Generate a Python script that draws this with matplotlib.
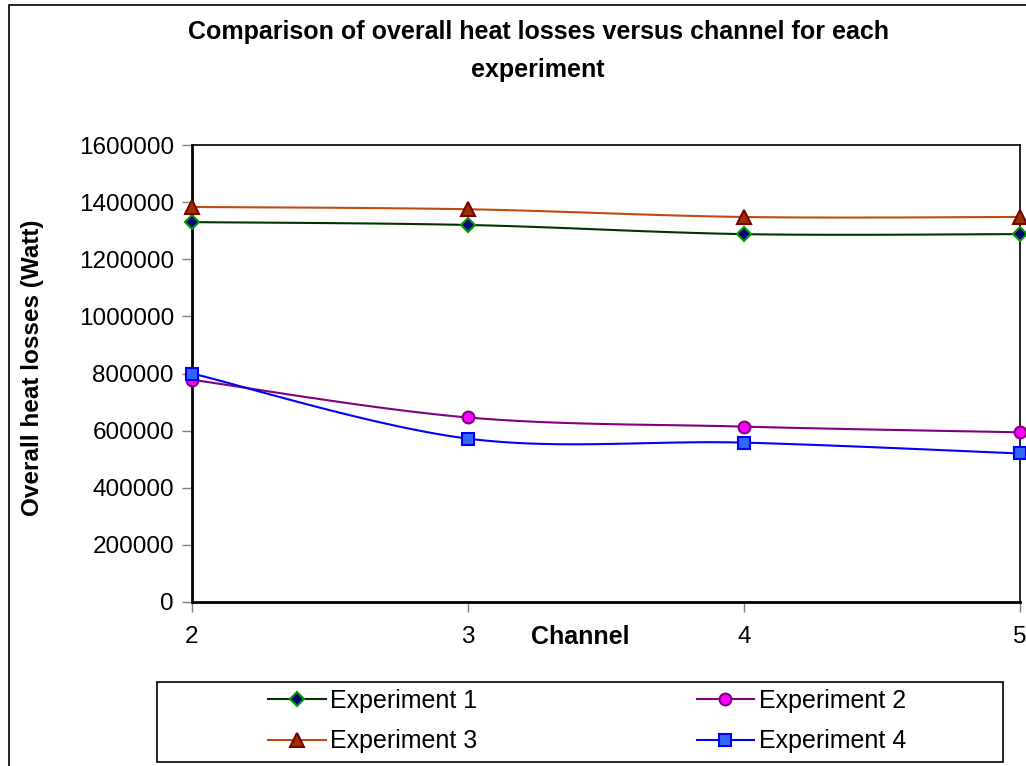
import matplotlib
matplotlib.use("Agg")
import matplotlib.pyplot as plt
import numpy as np
from matplotlib.patches import Rectangle
from matplotlib.lines import Line2D
from matplotlib.ticker import FuncFormatter

plt.rcParams['font.family'] = ['Liberation Sans', 'DejaVu Sans']

channels = [2, 3, 4, 5]
exp1 = [1330000, 1320000, 1288000, 1288000]
exp2 = [778000, 646000, 614000, 594000]
exp3 = [1383000, 1375000, 1348000, 1348000]
exp4 = [800000, 572000, 558000, 520000]

labels = ["Experiment 1", "Experiment 2", "Experiment 3", "Experiment 4"]
series = [exp1, exp2, exp3, exp4]
styles = [
    dict(color="#003300", marker="D", mfc="#000080", mec="#009900", ms=7.5),
    dict(color="#800080", marker="o", mfc="#FF00FF", mec="#800080", ms=8.5),
    dict(color="#C04A10", marker="^", mfc="#993300", mec="#800000", ms=10),
    dict(color="#0000FF", marker="s", mfc="#3366FF", mec="#0000FF", ms=8),
]


def smooth(x, y, n=40):
    # Excel-like smoothed line: Catmull-Rom segments as cubic Bezier
    x = np.asarray(x, float)
    y = np.asarray(y, float)
    px = np.concatenate([[x[0]], x, [x[-1]]])
    py = np.concatenate([[y[0]], y, [y[-1]]])
    t = np.linspace(0, 1, n)
    xs, ys = [], []
    for i in range(1, len(px) - 2):
        p0 = np.array([px[i], py[i]])
        p3 = np.array([px[i + 1], py[i + 1]])
        c1 = p0 + (p3 - np.array([px[i - 1], py[i - 1]])) / 6
        c2 = p3 - (np.array([px[i + 2], py[i + 2]]) - p0) / 6
        b = ((1 - t) ** 3)[:, None] * p0 + (3 * (1 - t) ** 2 * t)[:, None] * c1 \
            + (3 * (1 - t) * t ** 2)[:, None] * c2 + (t ** 3)[:, None] * p3
        xs.append(b[:, 0])
        ys.append(b[:, 1])
    return np.concatenate(xs), np.concatenate(ys)


fig = plt.figure(figsize=(10.26, 7.66), dpi=100)
ax = fig.add_axes([192 / 1026, 1 - 602 / 766, 828 / 1026, 457 / 766])

handles = []
for lab, vals, st in zip(labels, series, styles):
    sx, sy = smooth(channels, vals)
    ax.plot(sx, sy, color=st["color"], lw=1.5, zorder=2, clip_on=False)
    ax.plot(channels, vals, ls="none", marker=st["marker"], mfc=st["mfc"],
            mec=st["mec"], ms=st["ms"], mew=1.5, zorder=3, clip_on=False)
    handles.append(Line2D([], [], color=st["color"], lw=1.5, marker=st["marker"],
                          mfc=st["mfc"], mec=st["mec"], ms=st["ms"], mew=1.5))

ax.set_xlim(2, 5)
ax.set_ylim(0, 1600000)
ax.set_xticks(channels)
ax.set_yticks(np.arange(0, 1600001, 200000))
ax.yaxis.set_major_formatter(FuncFormatter(lambda v, p: f"{v:.0f}"))
ax.tick_params(axis="both", direction="out", length=7, width=1, color="#808080",
               labelsize=17.5, pad=6)
ax.tick_params(axis="x", pad=10)
for s in ax.spines.values():
    s.set_linewidth(1.2)
ax.spines["left"].set_linewidth(2)
ax.spines["bottom"].set_linewidth(2)

ax.set_xlabel("Channel", fontsize=18, fontweight="bold")
ax.xaxis.set_label_coords((580 - 192) / 828, (602 - 637) / 457)
ax.xaxis.label.set_va("center")
ax.set_ylabel("Overall heat losses (Watt)", fontsize=17.5, fontweight="bold")
ax.yaxis.set_label_coords((33 - 192) / 828, (602 - 368) / 457)
ax.yaxis.label.set_va("center")

fig.text(538 / 1026, 1 - 32 / 766, "Comparison of overall heat losses versus channel for each",
         ha="center", va="center", fontsize=18, fontweight="bold")
fig.text(538 / 1026, 1 - 70 / 766, "experiment",
         ha="center", va="center", fontsize=18, fontweight="bold")

# outer chart border
fig.patches.append(Rectangle((9 / 1026, -0.1), 1.2, 1 - 5 / 766 + 0.1,
                             transform=fig.transFigure, fill=False,
                             edgecolor="black", lw=1.2))

# legend box drawn separately, entries placed row-wise
fig.patches.append(Rectangle((157 / 1026, 1 - 762 / 766), (1003 - 157) / 1026, 80 / 766,
                             transform=fig.transFigure, fill=False,
                             edgecolor="black", lw=1.2))
order = [0, 2, 1, 3]
leg = fig.legend([handles[i] for i in order], [labels[i] for i in order],
                 loc="upper left", ncol=2, bbox_to_anchor=(268 / 1026, 1 - 689 / 766),
                 fontsize=18, frameon=False, borderpad=0, borderaxespad=0,
                 handlelength=2.3, handletextpad=0.2, labelspacing=0.65,
                 columnspacing=8.75)

fig.savefig("out.png", dpi=100)
